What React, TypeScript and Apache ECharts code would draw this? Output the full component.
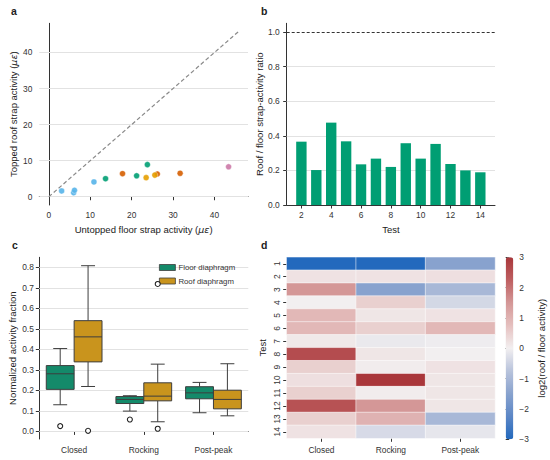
import React, { useEffect, useRef } from 'react';
import * as echarts from 'echarts';

// ---- panel a: scatter ----
const untoppedFloor = [3.1, 6.0, 6.2, 10.9, 13.7, 17.8, 21.2, 23.5, 23.8, 25.6, 26.2, 31.7, 43.4];
const toppedRoof = [1.6, 1.1, 1.8, 4.1, 5.0, 6.4, 5.8, 5.3, 8.9, 6.0, 6.3, 6.5, 8.3];
const pointGroup = [0, 0, 0, 0, 1, 2, 1, 3, 1, 3, 2, 2, 4];
const groupColors = ['#56B4E9', '#009E73', '#D55E00', '#E69F00', '#CC79A7'];
const identityLine = [0, 45.8];
const activityTicks = [0, 10, 20, 30, 40];

// ---- panel b: bars ----
const tests = [2, 3, 4, 5, 6, 7, 8, 9, 10, 11, 12, 13, 14];
const ratio = [0.366, 0.202, 0.476, 0.368, 0.235, 0.268, 0.22, 0.357, 0.268, 0.353, 0.237, 0.2, 0.189];
const ratioTicks = [0, 0.2, 0.4, 0.6, 0.8, 1.0];
const referenceRatio = 1.0;
const testTicks = [2, 4, 6, 8, 10, 12, 14];

// ---- panel c: boxplots ----
const phases = ['Closed', 'Rocking', 'Post-peak'];
// [low whisker, q1, median, q3, high whisker]
const floorBoxes = [
  [0.13, 0.205, 0.281, 0.321, 0.404],
  [0.099, 0.136, 0.156, 0.17, 0.174],
  [0.091, 0.159, 0.188, 0.218, 0.239],
];
const roofBoxes = [
  [0.219, 0.339, 0.461, 0.54, 0.808],
  [0.047, 0.149, 0.172, 0.237, 0.328],
  [0.076, 0.11, 0.156, 0.201, 0.33],
];
const floorOutliers = [[0, 0.026], [1, 0.058]];
const roofOutliers = [[0, 0.003], [1, 0.013], [1, 0.719]];
const fractionTicks = [0, 0.1, 0.2, 0.3, 0.4, 0.5, 0.6, 0.7, 0.8];

// ---- panel d: heatmap ----
const testRows = ['1', '2', '3', '4', '5', '6', '7', '8', '9', '10', '11', '12', '13', '14'];
const heatClosed = [-3, 0.2, 1.5, 0.0, 0.9, 0.9, 0.1, 2.6, 0.5, 0.25, 0.5, 2.5, 0.5, 0.2];
const heatRocking = [-3, 0.2, -1.5, 0.5, 0.15, 0.5, -0.1, 0.15, 0.05, 3.0, 0.05, 1.5, 1.0, -0.35];
const heatPostPeak = [-1.5, 0.25, -1.0, -0.4, 0.2, 0.9, -0.05, 0.0, 0.2, 0.15, 0.15, 0.15, -1.0, -0.15];
const colorbarTicks = [-3, -2, -1, 0, 1, 2, 3];

const FONT = '"Liberation Sans", Arial, sans-serif';
const INK = '#333333';
const GRIDLINE = '#e2e2e2';
const TICK_FS = 8.4;
const TITLE_FS = 9.5;
const FLOOR_FILL = '#148A6A';
const ROOF_FILL = '#C9941D';
const EDGE = '#3d3d3d';

const vlag = ['#2369bd', '#5b86c6', '#88a2ce', '#b8c3dc', '#f2eff0', '#e5c0bf', '#d49797', '#be5f61', '#a9373b'];

const axisLineStyle = { show: true, lineStyle: { color: INK, width: 1 } };
const tickStyle = { show: true, length: 3.5, lineStyle: { color: INK, width: 1 } };
const nameStyle = {
  fontSize: TITLE_FS,
  color: '#222',
  fontFamily: FONT,
  rich: { i: { fontStyle: 'italic', fontSize: TITLE_FS, fontFamily: '"DejaVu Sans", sans-serif', color: '#222' } },
};
const labelStyle = { fontSize: TICK_FS, color: INK, fontFamily: FONT };

function boxRender(offset: number, fill: string) {
  return (params: any, api: any) => {
    const cat = api.value(0);
    const band = api.size([1, 0])[0];
    const cx = api.coord([cat, 0])[0] + offset * band;
    const hw = 0.2 * band;
    const y = (i: number) => api.coord([cat, api.value(i)])[1];
    const yLow = y(1), yQ1 = y(2), yMed = y(3), yQ3 = y(4), yHigh = y(5);
    const ls = { stroke: EDGE, lineWidth: 1 };
    return {
      type: 'group',
      children: [
        { type: 'line', shape: { x1: cx, y1: yQ1, x2: cx, y2: yLow }, style: ls },
        { type: 'line', shape: { x1: cx, y1: yQ3, x2: cx, y2: yHigh }, style: ls },
        { type: 'line', shape: { x1: cx - hw / 2, y1: yLow, x2: cx + hw / 2, y2: yLow }, style: ls },
        { type: 'line', shape: { x1: cx - hw / 2, y1: yHigh, x2: cx + hw / 2, y2: yHigh }, style: ls },
        { type: 'rect', shape: { x: cx - hw, y: yQ3, width: 2 * hw, height: yQ1 - yQ3 }, style: { fill, stroke: EDGE, lineWidth: 1 } },
        { type: 'line', shape: { x1: cx - hw, y1: yMed, x2: cx + hw, y2: yMed }, style: ls },
      ],
    };
  };
}

function outlierRender(offset: number) {
  return (params: any, api: any) => {
    const cat = api.value(0);
    const band = api.size([1, 0])[0];
    const p = api.coord([cat, api.value(1)]);
    return {
      type: 'circle',
      shape: { cx: p[0] + offset * band, cy: p[1], r: 2.5 },
      style: { fill: '#fff', stroke: '#222', lineWidth: 1.1 },
    };
  };
}

function gridMarkLine(ticks: number[], extra: any[] = []) {
  return {
    silent: true,
    symbol: 'none',
    z: 1,
    label: { show: false },
    lineStyle: { color: GRIDLINE, width: 1, type: 'solid' },
    emphasis: { disabled: true },
    data: [...ticks.map((v) => ({ yAxis: v })), ...extra],
  };
}

function buildOption() {
  const series: any[] = [];

  // panel a
  series.push({
    type: 'line',
    xAxisIndex: 0,
    yAxisIndex: 0,
    data: [[identityLine[0], identityLine[0]], [identityLine[1], identityLine[1]]],
    symbol: 'none',
    lineStyle: { color: '#8a8a8a', width: 1.2, type: [4, 2.5] },
    silent: true,
    z: 2,
    markLine: gridMarkLine(activityTicks),
  });
  groupColors.forEach((color, g) => {
    const pts: number[][] = [];
    untoppedFloor.forEach((x, i) => {
      if (pointGroup[i] === g) pts.push([x, toppedRoof[i]]);
    });
    series.push({
      type: 'scatter',
      xAxisIndex: 0,
      yAxisIndex: 0,
      data: pts,
      symbolSize: 6,
      itemStyle: { color, opacity: 0.9, borderColor: '#fff', borderWidth: 0.4 },
      z: 3,
    });
  });

  // panel b
  series.push({
    type: 'bar',
    xAxisIndex: 1,
    yAxisIndex: 1,
    data: tests.map((t, i) => [t, ratio[i]]),
    barWidth: 10.4,
    itemStyle: { color: '#009E73' },
    markLine: gridMarkLine(ratioTicks.filter((v) => v > 0 && v < referenceRatio), [
      { yAxis: referenceRatio, lineStyle: { color: '#333', width: 1, type: [3, 2] } },
    ]),
    z: 3,
  });

  // panel c
  series.push({
    type: 'custom',
    name: 'Floor diaphragm',
    xAxisIndex: 2,
    yAxisIndex: 2,
    renderItem: boxRender(-0.2, FLOOR_FILL),
    data: floorBoxes.map((b, i) => [i, ...b]),
    encode: { x: 0, y: [1, 2, 3, 4, 5] },
    itemStyle: { color: FLOOR_FILL },
    markLine: gridMarkLine(fractionTicks),
    z: 3,
  });
  series.push({
    type: 'custom',
    name: 'Roof diaphragm',
    xAxisIndex: 2,
    yAxisIndex: 2,
    renderItem: boxRender(0.2, ROOF_FILL),
    data: roofBoxes.map((b, i) => [i, ...b]),
    encode: { x: 0, y: [1, 2, 3, 4, 5] },
    itemStyle: { color: ROOF_FILL },
    z: 3,
  });
  series.push({
    type: 'custom',
    name: 'floor-outliers',
    xAxisIndex: 2,
    yAxisIndex: 2,
    renderItem: outlierRender(-0.2),
    data: floorOutliers,
    encode: { x: 0, y: 1 },
    z: 4,
  });
  series.push({
    type: 'custom',
    name: 'roof-outliers',
    xAxisIndex: 2,
    yAxisIndex: 2,
    renderItem: outlierRender(0.2),
    data: roofOutliers,
    encode: { x: 0, y: 1 },
    z: 4,
  });

  // panel d
  const heatData: number[][] = [];
  const cols = [heatClosed, heatRocking, heatPostPeak];
  cols.forEach((col, x) => col.forEach((v, y) => heatData.push([x, y, v])));
  const heatIndex = series.length;
  series.push({
    type: 'heatmap',
    xAxisIndex: 3,
    yAxisIndex: 3,
    data: heatData,
    itemStyle: { borderColor: '#ffffff', borderWidth: 0.5 },
    emphasis: { disabled: true },
  });

  // colorbar axis carrier
  series.push({ type: 'scatter', xAxisIndex: 4, yAxisIndex: 4, data: [], silent: true });

  return {
    animation: false,
    textStyle: { fontFamily: FONT },
    grid: [
      { left: 39.3, top: 23.3, width: 208.7, height: 181.7 },
      { left: 286.7, top: 23.3, width: 208.3, height: 181.7 },
      { left: 39.3, top: 257.3, width: 209, height: 181.7 },
      { left: 286.7, top: 257.3, width: 208.3, height: 181 },
      { left: 505.7, top: 257.3, width: 7.6, height: 182 },
    ],
    xAxis: [
      {
        type: 'value', gridIndex: 0, min: -2.29, max: 48.09,
        axisLine: axisLineStyle,
        axisTick: { ...tickStyle, customValues: activityTicks },
        axisLabel: { ...labelStyle, margin: 6, customValues: activityTicks },
        splitLine: { show: false },
        name: 'Untopped floor strap activity ({i|με})', nameLocation: 'middle', nameGap: 19, nameTextStyle: nameStyle,
      },
      {
        type: 'value', gridIndex: 1, min: 1.015, max: 14.985,
        axisLine: axisLineStyle,
        axisTick: { ...tickStyle, customValues: testTicks },
        axisLabel: { ...labelStyle, margin: 6, customValues: testTicks },
        splitLine: { show: false },
        name: 'Test', nameLocation: 'middle', nameGap: 19, nameTextStyle: nameStyle,
      },
      {
        type: 'category', gridIndex: 2, data: phases,
        axisLine: axisLineStyle,
        axisTick: { ...tickStyle, alignWithLabel: true },
        axisLabel: { ...labelStyle, margin: 7 },
        splitLine: { show: false },
      },
      {
        type: 'category', gridIndex: 3, data: phases,
        axisLine: { show: false },
        axisTick: { ...tickStyle, alignWithLabel: true },
        axisLabel: { ...labelStyle, margin: 7.5 },
        splitLine: { show: false },
      },
      { type: 'value', gridIndex: 4, min: 0, max: 1, show: false },
    ],
    yAxis: [
      {
        type: 'value', gridIndex: 0, min: -2.29, max: 48.09,
        axisLine: axisLineStyle,
        axisTick: { ...tickStyle, customValues: activityTicks },
        axisLabel: { ...labelStyle, margin: 7, customValues: activityTicks },
        splitLine: { show: false },
        name: 'Topped roof strap activity ({i|με})', nameLocation: 'middle', nameGap: 21, nameTextStyle: nameStyle,
      },
      {
        type: 'value', gridIndex: 1, min: 0, max: 1.05,
        axisLine: axisLineStyle,
        axisTick: { ...tickStyle, customValues: ratioTicks },
        axisLabel: { ...labelStyle, margin: 7, customValues: ratioTicks, formatter: (v: number) => v.toFixed(1) },
        splitLine: { show: false },
        name: 'Roof / floor strap-activity ratio', nameLocation: 'middle', nameGap: 22, nameTextStyle: nameStyle,
      },
      {
        type: 'value', gridIndex: 2, min: -0.037, max: 0.849,
        axisLine: axisLineStyle,
        axisTick: { ...tickStyle, customValues: fractionTicks },
        axisLabel: { ...labelStyle, margin: 5.5, customValues: fractionTicks, formatter: (v: number) => v.toFixed(1) },
        splitLine: { show: false },
        name: 'Normalized activity fraction', nameLocation: 'middle', nameGap: 22, nameTextStyle: nameStyle,
      },
      {
        type: 'category', gridIndex: 3, data: testRows, inverse: true,
        axisLine: { show: false },
        axisTick: { ...tickStyle, alignWithLabel: true },
        axisLabel: { ...labelStyle, margin: 6, rotate: 90 },
        splitLine: { show: false },
        name: 'Test', nameLocation: 'middle', nameGap: 19, nameTextStyle: nameStyle,
      },
      {
        type: 'value', gridIndex: 4, min: -3, max: 3, position: 'right',
        axisLine: { show: false },
        axisTick: { ...tickStyle, customValues: colorbarTicks },
        axisLabel: { ...labelStyle, margin: 6, customValues: colorbarTicks, formatter: (v: number) => (v < 0 ? '\u2212' + Math.abs(v) : String(v)) },
        splitLine: { show: false },
        name: 'log2(roof / floor activity)', nameLocation: 'middle', nameGap: 23, nameRotate: 90, nameTextStyle: nameStyle,
      },
    ],
    legend: {
      left: 159,
      top: 263.5,
      orient: 'vertical',
      itemWidth: 16,
      itemHeight: 6,
      itemGap: 5.5,
      padding: 0,
      selectedMode: false,
      textStyle: { fontSize: 7.8, color: INK, fontFamily: FONT, padding: [0, 0, 0, -2] },
      data: [
        { name: 'Floor diaphragm', icon: 'rect', itemStyle: { color: FLOOR_FILL, borderColor: EDGE, borderWidth: 0.8 } },
        { name: 'Roof diaphragm', icon: 'rect', itemStyle: { color: ROOF_FILL, borderColor: EDGE, borderWidth: 0.8 } },
      ],
    },
    visualMap: {
      type: 'continuous',
      min: -3,
      max: 3,
      seriesIndex: heatIndex,
      calculable: false,
      realtime: false,
      hoverLink: false,
      left: 505.7,
      top: 257.3,
      itemWidth: 7.6,
      itemHeight: 182,
      padding: 0,
      text: ['', ''],
      textGap: 0,
      inRange: { color: vlag },
    },
    graphic: [
      { type: 'text', left: 11, top: 5, style: { text: 'a', font: `bold 10.5px ${FONT}`, fill: '#222' } },
      { type: 'text', left: 261, top: 5, style: { text: 'b', font: `bold 10.5px ${FONT}`, fill: '#222' } },
      { type: 'text', left: 12, top: 239, style: { text: 'c', font: `bold 10.5px ${FONT}`, fill: '#222' } },
      { type: 'text', left: 261, top: 239, style: { text: 'd', font: `bold 10.5px ${FONT}`, fill: '#222' } },
    ],
    series,
  };
}

export default function App() {
  const ref = useRef<HTMLDivElement>(null);
  useEffect(() => {
    if (!ref.current) return;
    const chart = echarts.init(ref.current, undefined, { renderer: 'svg' });
    chart.setOption(buildOption() as any);
    return () => chart.dispose();
  }, []);
  return (
    <div
      ref={ref}
      style={{ position: 'absolute', left: 0, top: 0, width: 550, height: 460, background: '#fff' }}
    />
  );
}
